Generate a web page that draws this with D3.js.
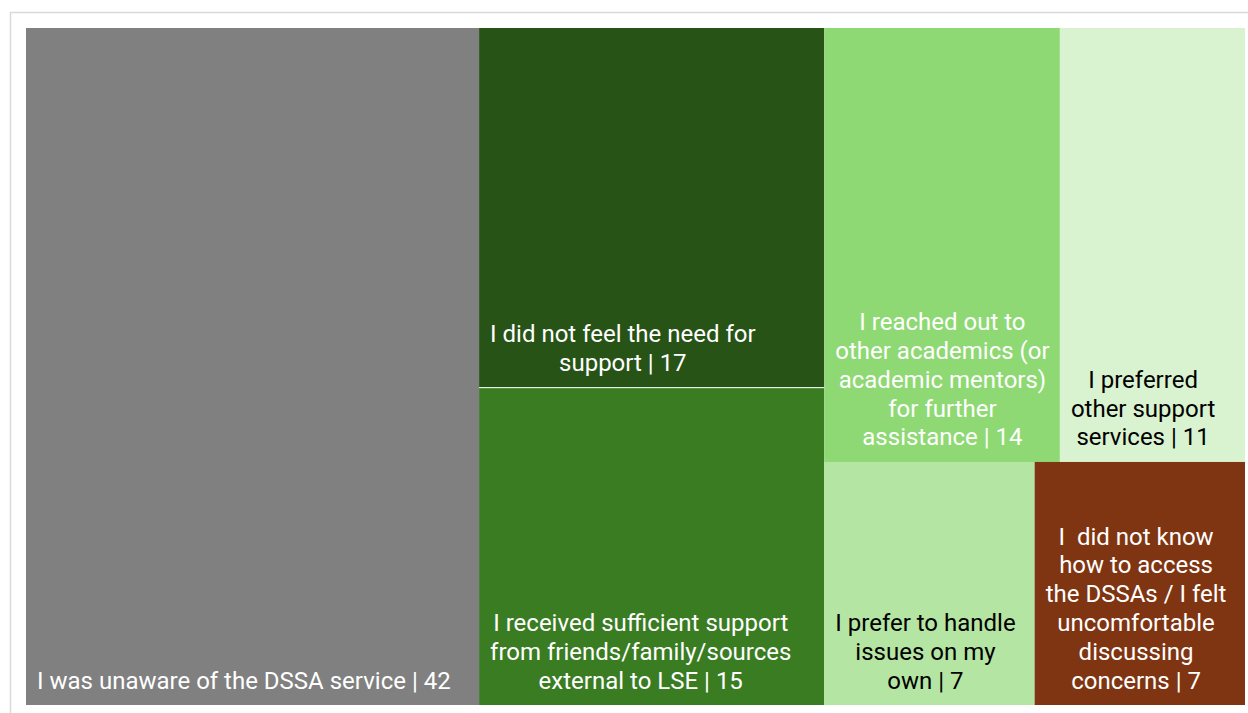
<!DOCTYPE html>
<html>
<head>
<meta charset="utf-8">
<script src="https://cdn.jsdelivr.net/npm/d3@7"></script>
<style>
  html, body { margin: 0; padding: 0; background: #fff; }
  svg { display: block; }
  text { font-family: Roboto, "Noto Sans", sans-serif; }
</style>
</head>
<body>
<svg id="chart" width="1248" height="713"></svg>
<script>
// Reasons given for not using the DSSA service (number of respondents)
const categories = [
  "I was unaware of the DSSA service",
  "I did not feel the need for support",
  "I received sufficient support from friends/family/sources external to LSE",
  "I reached out to other academics (or academic mentors) for further assistance",
  "I preferred other support services",
  "I prefer to handle issues on my own",
  "I  did not know how to access the DSSAs / I felt uncomfortable discussing concerns"
];
const values = [42, 17, 15, 14, 11, 7, 7];
const fills = ["#808080", "#275317", "#3A7C22", "#8ED973", "#D9F2D0", "#B4E5A2", "#7F3511"];
const labelColors = ["#fff", "#fff", "#fff", "#fff", "#000", "#000", "#fff"];

// How the tiles are grouped: columns, then rows inside a column
const nesting = [0, [1, 2], [[3, 4], [5, 6]]];

const W = 1248, H = 713;
const margin = { left: 26, top: 28, right: 3, bottom: 8 };
const fontSize = 24, lineH = 28.8, padLeft = 11, padRight = 8, baseFromBottom = 16.5;

const svg = d3.select("#chart");

// light frame around the plot area
svg.append("rect")
  .attr("x", 10.5).attr("y", 12.5)
  .attr("width", 1300).attr("height", 800)
  .attr("fill", "none")
  .attr("stroke", "#d9d9d9")
  .attr("stroke-width", 1.5);

function build(n) {
  if (Array.isArray(n)) return { children: n.map(build) };
  return { index: n, value: values[n] };
}
const root = d3.hierarchy(build(nesting))
  .sum(d => d.value || 0);

d3.treemap()
  .tile(d3.treemapSliceDice)
  .size([W - margin.left - margin.right, H - margin.top - margin.bottom])
  .paddingInner(0)
  .round(false)(root);

const g = svg.append("g").attr("transform", `translate(${margin.left},${margin.top})`);
const leaves = root.leaves();

const cell = g.selectAll("g.cell").data(leaves).join("g").attr("class", "cell");

cell.append("rect")
  .attr("x", d => d.x0).attr("y", d => d.y0)
  .attr("width", d => d.x1 - d.x0).attr("height", d => d.y1 - d.y0)
  .attr("fill", d => fills[d.data.index]);

// thin white separator between the two stacked tiles of the second column
g.selectAll("line.sep")
  .data(leaves.filter(d => d.parent.depth === 1 && d.parent.children.indexOf(d) > 0 && d.parent.children[0].children === undefined))
  .join("line")
  .attr("class", "sep")
  .attr("x1", d => d.x0).attr("x2", d => d.x1)
  .attr("y1", d => d.y0).attr("y2", d => d.y0)
  .attr("stroke", "#fff").attr("stroke-width", 1);

// text measuring helper
const probe = svg.append("text").attr("font-size", fontSize).style("white-space", "pre").attr("x", -1000).attr("y", -1000);
function measure(s) { probe.text(s); return probe.node().getComputedTextLength(); }

// greedy word wrap; the value stays attached to the last word
function wrap(d) {
  const i = d.data.index;
  const tokens = categories[i].split(" ");
  tokens[tokens.length - 1] += " | " + values[i];
  const maxW = (d.x1 - d.x0) - padLeft - padRight;
  const lines = [];
  let cur = "";
  tokens.forEach(t => {
    const test = cur === "" ? t : cur + " " + t;
    if (cur !== "" && measure(test) > maxW) { lines.push(cur); cur = t; }
    else cur = test;
  });
  if (cur !== "") lines.push(cur);
  return lines;
}

cell.each(function(d) {
  const lines = wrap(d);
  const widths = lines.map(measure);
  const blockW = d3.max(widths);
  const cx = d.x0 + padLeft + blockW / 2;
  const lastBase = d.y1 - baseFromBottom;
  const t = d3.select(this).append("text")
    .attr("font-size", fontSize)
    .attr("fill", labelColors[d.data.index])
    .attr("text-anchor", "middle")
    .style("white-space", "pre");
  lines.forEach((ln, k) => {
    t.append("tspan")
      .attr("x", cx)
      .attr("y", lastBase - (lines.length - 1 - k) * lineH)
      .text(ln);
  });
});
probe.remove();
</script>
</body>
</html>
